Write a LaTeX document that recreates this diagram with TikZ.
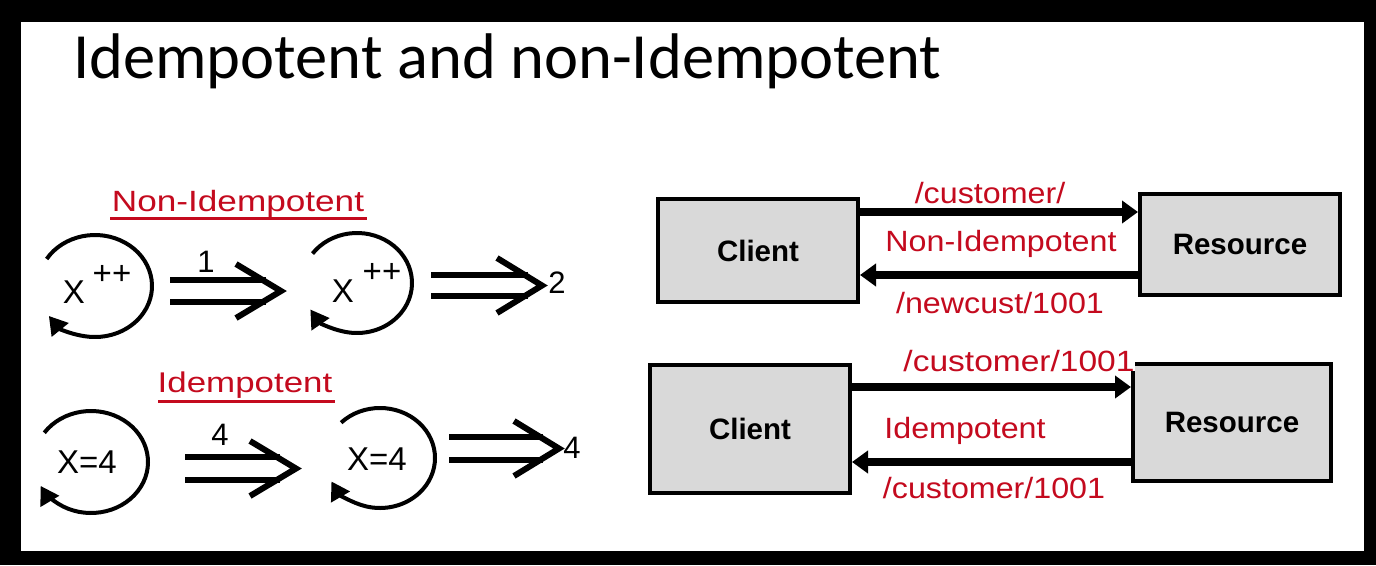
\documentclass[tikz,border=0pt]{standalone}
\usepackage{fontspec}
\setmainfont{Liberation Sans}
\newfontfamily\titlefont{Carlito}
\usetikzlibrary{arrows.meta,calc}
\definecolor{redlbl}{RGB}{196,10,30}
\definecolor{boxgray}{RGB}{217,217,217}
\begin{document}
\begin{tikzpicture}[x=1pt,y=-1pt,
  titletext/.style={font=\titlefont\fontsize{64.5}{70}\selectfont, anchor=base west, inner sep=0},
  redl/.style={text=redlbl, font=\fontsize{29.3}{32}\selectfont, anchor=base, inner sep=0, xscale=1.2},
  redr/.style={text=redlbl, font=\fontsize{29.3}{32}\selectfont, anchor=base, inner sep=0, xscale=1.1},
  vartext/.style={font=\fontsize{33}{36}\selectfont, anchor=base, inner sep=0},
  numtext/.style={font=\fontsize{31}{34}\selectfont, anchor=base, inner sep=0},
  boxnode/.style={draw=black, line width=4pt, fill=boxgray, font=\bfseries\fontsize{29.5}{32}\selectfont, inner sep=0},
  loopline/.style={line width=4pt, -{Triangle[length=18pt,width=21pt]}},
  dblline/.style={line width=6pt},
  chevron/.style={line width=6pt, line join=miter},
  conn/.style={line width=8pt, -{Triangle[length=16pt,width=22pt]}},
  uline/.style={draw=redlbl, line width=3pt}
]
\useasboundingbox (0,0) rectangle (1376,565);
\fill[black] (0,0) rectangle (1376,565);
\fill[white] (21,22) rectangle (1364,551);

% title
\node[titletext] (title) at (73,78) {Idempotent and non-Idempotent};

% ---------- left: non-idempotent ----------
\node[redl] (nonidem) at (238,211) {Non-Idempotent};
\draw[uline] (110,218) -- (367,218);

\coordinate (l1) at (95,286);
\draw[loopline] ($(l1)+(212:57 and 51)$) arc[start angle=212, end angle=504, x radius=57, y radius=51];
\node[vartext] (x1) at (74,303) {X};
\node[vartext] (p1) at (112,284) {++};

\node[numtext] (n1) at (206,272) {1};
\draw[dblline] (170,280) -- (266,280);
\draw[dblline] (170,302) -- (266,302);
\draw[chevron] (236,264) -- (281,291) -- (236,318);

\coordinate (l2) at (357,283);
\draw[loopline] ($(l2)+(216:55 and 50)$) arc[start angle=216, end angle=508, x radius=55, y radius=50];
\node[vartext] (x2) at (343,302) {X};
\node[vartext] (p2) at (382,282) {++};

\draw[dblline] (431,275) -- (528,275);
\draw[dblline] (431,296) -- (528,296);
\draw[chevron] (497,258) -- (542,285.5) -- (497,313);
\node[numtext] (n2) at (557,293) {2};

% ---------- left: idempotent ----------
\node[redl, font=\fontsize{28.5}{32}\selectfont, xscale=1.02] (idem) at (245,392) {Idempotent};
\draw[uline] (158,401) -- (335,401);

\coordinate (l3) at (91,462);
\draw[loopline] ($(l3)+(215:57 and 51)$) arc[start angle=215, end angle=512, x radius=57, y radius=51];
\node[vartext] (x3) at (87,473) {X=4};

\node[numtext] (n3) at (220,445) {4};
\draw[dblline] (185,457) -- (280,457);
\draw[dblline] (185,480) -- (280,480);
\draw[chevron] (250,441) -- (296,468.5) -- (250,496);

\coordinate (l4) at (380,458);
\draw[loopline] ($(l4)+(225:55 and 50)$) arc[start angle=225, end angle=512, x radius=55, y radius=50];
\node[vartext] (x4) at (377,470) {X=4};

\draw[dblline] (449,437) -- (543,437);
\draw[dblline] (449,460) -- (543,460);
\draw[chevron] (514,421) -- (559,448.5) -- (514,476);
\node[numtext] (n4) at (572,458) {4};

% ---------- right: non-idempotent ----------
\node[boxnode, minimum width=200pt, minimum height=103pt] (c1) at (758,250.5) {Client};
\node[boxnode, minimum width=200pt, minimum height=101pt] (r1) at (1240,244.5) {Resource};
\coordinate (t1) at ($(c1.east)+(0,-38.5)$);
\coordinate (b1) at ($(c1.east)+(0,24.5)$);
\draw[conn] (t1) -- (t1 -| r1.west);
\draw[conn] (b1 -| r1.west) -- (b1);
\node[redr] (lab1) at (990,203) {/customer/};
\node[redr] (lab2) at (1001,251) {Non-Idempotent};
\node[redr] (lab3) at (1000,313) {/newcust/1001};

% ---------- right: idempotent ----------
\node[boxnode, minimum width=200pt, minimum height=128pt] (c2) at (750,429) {Client};
\node[boxnode, minimum width=198pt, minimum height=117pt] (r2) at (1232,422.5) {Resource};
\coordinate (t2) at ($(c2.east)+(0,-42)$);
\coordinate (b2) at ($(c2.east)+(0,33)$);
\draw[conn] (t2) -- (t2 -| r2.west);
\draw[conn] (b2 -| r2.west) -- (b2);
\node[redr, fill=white, xscale=1.04] (lab4) at (1019,371) {/customer/1001};
\node[redr] (lab5) at (965,438) {Idempotent};
\node[redr] (lab6) at (994,498) {/customer/1001};
\end{tikzpicture}
\end{document}
